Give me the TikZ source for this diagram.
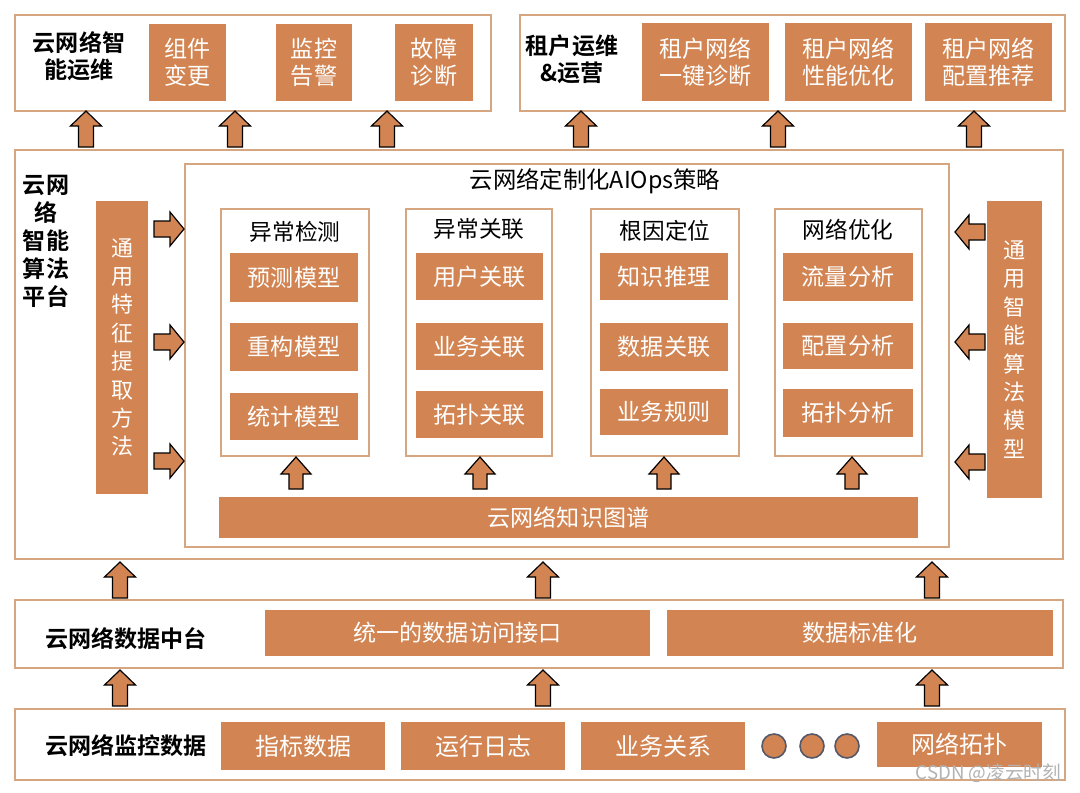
\documentclass[tikz,border=0pt]{standalone}
\usepackage{fontspec}
\setmainfont{Noto Sans CJK SC}[BoldFont={Noto Sans CJK SC Bold}]
\definecolor{org}{RGB}{210,133,82}
\definecolor{edge}{RGB}{214,166,128}
\definecolor{yel}{RGB}{255,255,140}
\definecolor{ring}{RGB}{85,88,105}
% box from corners (x1,y1)-(x2,y2) in pixel units
\newcommand\bxnode[6]{\node[#1, minimum width={(#4-#2)*0.75pt}, minimum height={(#5-#3)*0.75pt}] (#6) at ({(#2+#4)/2},{(#3+#5)/2})}
\begin{document}
\begin{tikzpicture}[x=0.75pt,y=-0.75pt,
  frame/.style={draw=edge, line width=1.3pt, inner sep=0pt},
  obox/.style={fill=org, text=white, inner sep=0pt, align=center, font=\fontsize{17.3}{20.5}\selectfont},
  bbox/.style={obox, font=\fontsize{18}{20}\selectfont},
  vbox/.style={fill=org, text=white, inner sep=0pt, align=center, font=\fontsize{16.5}{21.3}\selectfont},
  ttl/.style={align=center, font=\bfseries\fontsize{17.3}{20.5}\selectfont},
  coltitle/.style={font=\fontsize{17}{20}\selectfont},
  dot/.style={circle, fill=org, draw=ring, line width=1.2pt, minimum size=24*0.75pt, inner sep=0pt},
  arr/.style={draw=black, line width=0.9pt, fill=org},
  uarr/.pic={\draw[arr, pic actions] (-7.5,18)--(-7.5,-3)--(-15.5,-3)--(0,-18)--(15.5,-3)--(7.5,-3)--(7.5,18)--cycle;},
  suarr/.pic={\draw[arr, pic actions] (-7,16)--(-7,1)--(-15,1)--(0,-16)--(15,1)--(7,1)--(7,16)--cycle;},
  rarr/.pic={\draw[arr, pic actions] (-15,-8)--(1,-8)--(1,-17)--(15,0)--(1,17)--(1,8)--(-15,8)--cycle;},
  larr/.pic={\draw[arr, pic actions] (15,-8)--(-1,-8)--(-1,-17)--(-15,0)--(-1,17)--(-1,8)--(15,8)--cycle;}
]
\useasboundingbox (0,0) rectangle (1080,792);
\fill[white] (0,0) rectangle (1080,792);

% ---------- top left ----------
\bxnode{frame}{15}{15}{491}{111}{ops} {};
\node[ttl] (opsT) at (79,56) {云网络智\\能运维};
\bxnode{obox}{149}{24}{226}{101}{t1} {组件\\变更};
\bxnode{obox}{276}{24}{352}{101}{t2} {监控\\告警};
\bxnode{obox}{395}{24}{473}{101}{t3} {故障\\诊断};

% ---------- top right ----------
\bxnode{frame}{520}{15}{1065}{111}{ten} {};
\node[ttl] (tenT) at (572,59) {租户运维\\\&运营};
\bxnode{obox}{642}{23}{769}{101}{r1} {租户网络\\一键诊断};
\bxnode{obox}{785}{23}{912}{101}{r2} {租户网络\\性能优化};
\bxnode{obox}{925}{23}{1052}{101}{r3} {租户网络\\配置推荐};

% arrows to top
\pic (a1) at (86,129) {uarr};
\pic (a2) at (235,129) {uarr};
\pic (a3) at (387,129) {uarr};
\pic[fill=yel] (a4) at (581,129) {uarr};
\pic[fill=yel] (a5) at (778,129) {uarr};
\pic[fill=yel] (a6) at (974,129) {uarr};

% ---------- middle platform ----------
\bxnode{frame}{15}{150}{1063}{559}{plat} {};
\node[ttl, font=\bfseries\fontsize{17.3}{21}\selectfont] (platT) at (46,241) {云网\\络\\智能\\算法\\平台};
\bxnode{vbox}{96}{201}{148}{494}{feat} {通\\用\\特\\征\\提\\取\\方\\法};
\bxnode{vbox}{987}{201}{1042}{498}{model} {通\\用\\智\\能\\算\\法\\模\\型};
\bxnode{frame}{185}{164}{949}{547}{aiops} {};
\node[coltitle, font=\fontsize{17.5}{20}\selectfont] (aiopsT) at (595,181) {云网络定制化AIOps策略};

\pic (ra1) at (169,229) {rarr};
\pic (ra2) at (169,342) {rarr};
\pic (ra3) at (169,461) {rarr};
\pic (la1) at (970,232) {larr};
\pic (la2) at (970,342) {larr};
\pic (la3) at (970,462) {larr};

% columns
\bxnode{frame}{221}{209}{369}{456}{c1} {};
\bxnode{frame}{406}{209}{552}{456}{c2} {};
\bxnode{frame}{591}{209}{739}{456}{c3} {};
\bxnode{frame}{775}{209}{922}{456}{c4} {};
\node[coltitle] (c1T) at (295,232) {异常检测};
\node[coltitle] (c2T) at (479,229) {异常关联};
\node[coltitle] (c3T) at (665,231) {根因定位};
\node[coltitle] (c4T) at (848,230) {网络优化};

\bxnode{obox}{230}{253}{358}{302}{s11} {预测模型};
\bxnode{obox}{230}{323}{358}{371}{s12} {重构模型};
\bxnode{obox}{230}{393}{358}{440}{s13} {统计模型};
\bxnode{obox}{416}{253}{543}{300}{s21} {用户关联};
\bxnode{obox}{416}{323}{543}{370}{s22} {业务关联};
\bxnode{obox}{416}{391}{543}{438}{s23} {拓扑关联};
\bxnode{obox}{600}{253}{728}{300}{s31} {知识推理};
\bxnode{obox}{600}{323}{728}{371}{s32} {数据关联};
\bxnode{obox}{600}{389}{728}{435}{s33} {业务规则};
\bxnode{obox}{783}{253}{913}{301}{s41} {流量分析};
\bxnode{obox}{783}{323}{913}{369}{s42} {配置分析};
\bxnode{obox}{783}{389}{913}{437}{s43} {拓扑分析};

\pic (ia1) at (296,473) {suarr};
\pic (ia2) at (480,473) {suarr};
\pic (ia3) at (664,473) {suarr};
\pic (ia4) at (852,473) {suarr};

\bxnode{obox}{219}{497}{918}{538}{kg} {云网络知识图谱};

% arrows to platform
\pic (m1) at (120,580) {uarr};
\pic (m2) at (543,580) {uarr};
\pic (m3) at (932,580) {uarr};

% ---------- data platform ----------
\bxnode{frame}{15}{600}{1063}{668}{dp} {};
\node[ttl] (dpT) at (126,639) {云网络数据中台};
\bxnode{obox}{265}{610}{650}{656}{dp1} {统一的数据访问接口};
\bxnode{obox}{667}{610}{1053}{656}{dp2} {数据标准化};

\pic (b1) at (120,688) {uarr};
\pic (b2) at (543,688) {uarr};
\pic (b3) at (932,688) {uarr};

% ---------- monitoring data ----------
\bxnode{frame}{15}{709}{1065}{780}{mon} {};
\node[ttl] (monT) at (126,746) {云网络监控数据};
\bxnode{bbox}{221}{722}{385}{770}{d1} {指标数据};
\bxnode{bbox}{401}{722}{565}{770}{d2} {运行日志};
\bxnode{bbox}{581}{722}{745}{770}{d3} {业务关系};
\node[dot] (o1) at (774,746) {};
\node[dot] (o2) at (812,746) {};
\node[dot] (o3) at (847,746) {};
\bxnode{bbox}{877}{722}{1042}{767}{d4} {网络拓扑};

\node[text=black!30, font=\fontsize{14}{16}\selectfont, anchor=east] (wm) at (1066,773) {CSDN @凌云时刻};
\end{tikzpicture}
\end{document}
